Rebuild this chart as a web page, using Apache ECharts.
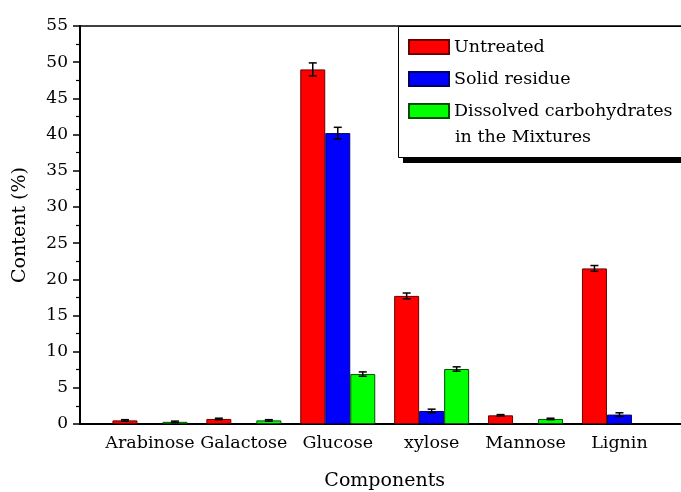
<!DOCTYPE html>
<html>
<head>
<meta charset="utf-8">
<script src="https://cdn.jsdelivr.net/npm/echarts@6/dist/echarts.min.js"></script>
<style>html,body{margin:0;padding:0;background:#fff;}#c{width:681px;height:492px;}</style>
</head>
<body>
<div id="c"></div>
<script>
var categories = ['Arabinose', 'Galactose', 'Glucose', 'xylose', 'Mannose', 'Lignin'];
var untreated = [0.5, 0.7, 49.0, 17.7, 1.2, 21.5];
var untreatedErr = [0.1, 0.1, 0.9, 0.4, 0.1, 0.4];
var solidResidue = [null, null, 40.2, 1.8, null, 1.3];
var solidResidueErr = [null, null, 0.8, 0.25, null, 0.25];
var dissolved = [0.3, 0.5, 6.9, 7.6, 0.7, null];
var dissolvedErr = [0.1, 0.1, 0.3, 0.3, 0.1, null];
var yTicks = [0, 5, 10, 15, 20, 25, 30, 35, 40, 45, 50, 55];

var FONT = 'DejaVu Serif';
var BW = 25;

function errData(vals, errs) {
  var out = [];
  for (var i = 0; i < vals.length; i++) {
    if (vals[i] != null && errs[i] != null) out.push([i, vals[i], errs[i]]);
  }
  return out;
}
function errSeries(vals, errs, offset) {
  return {
    type: 'custom', xAxisIndex: 1, yAxisIndex: 1, z: 5, silent: true,
    data: errData(vals, errs),
    encode: { x: 0, y: 1 },
    renderItem: function (params, api) {
      var i = api.value(0), v = api.value(1), e = api.value(2);
      var hi = api.coord([i, v + e]);
      var lo = api.coord([i, v - e]);
      var x = hi[0] + offset;
      var st = { stroke: '#000', lineWidth: 1.5 };
      return {
        type: 'group',
        children: [
          { type: 'line', shape: { x1: x, y1: hi[1], x2: x, y2: lo[1] }, style: st },
          { type: 'line', shape: { x1: x - 4, y1: hi[1], x2: x + 4, y2: hi[1] }, style: st },
          { type: 'line', shape: { x1: x - 4, y1: lo[1], x2: x + 4, y2: lo[1] }, style: st }
        ]
      };
    }
  };
}

var chart = echarts.init(document.getElementById('c'), null, { renderer: 'canvas' });
var option = {
  backgroundColor: '#fff',
  animation: false,
  textStyle: { fontFamily: FONT },
  grid: [
    { left: 80, right: -10, top: 26, bottom: 68, show: false, containLabel: false, outerBoundsMode: 'none' },
    { left: 103, right: 14.6, top: 26, bottom: 68, containLabel: false, outerBoundsMode: 'none' }
  ],
  xAxis: [
    { type: 'category', gridIndex: 0, data: categories, axisLine: { show: true, lineStyle: { color: '#000', width: 2 } },
      axisTick: { show: false }, axisLabel: { show: false }, splitLine: { show: false } },
    { type: 'category', gridIndex: 1, data: categories, axisLine: { show: false }, axisTick: { show: false },
      axisLabel: { color: '#000', fontSize: 17.5, fontFamily: FONT, margin: 10, interval: 0 },
      name: 'Components', nameLocation: 'middle', nameGap: 48,
      nameTextStyle: { color: '#000', fontSize: 19, fontFamily: FONT } },
    { type: 'category', gridIndex: 0, position: 'top', data: categories,
      axisLine: { show: true, lineStyle: { color: '#000', width: 1.5 } },
      axisTick: { show: false }, axisLabel: { show: false }, splitLine: { show: false } }
  ],
  yAxis: [
    { type: 'value', gridIndex: 0, min: 0, max: 55, interval: 5,
      axisLine: { show: true, lineStyle: { color: '#000', width: 2 } },
      axisTick: { show: true, length: 7, lineStyle: { color: '#000', width: 1.5 } },
      minorTick: { show: true, splitNumber: 2, length: 4, lineStyle: { color: '#000', width: 1.2 } },
      splitLine: { show: false },
      axisLabel: { color: '#000', fontSize: 17, fontFamily: FONT, margin: 12,
        formatter: function (v) { return yTicks.indexOf(v) >= 0 ? String(v) : ''; } },
      name: 'Content (%)', nameLocation: 'middle', nameGap: 50,
      nameTextStyle: { color: '#000', fontSize: 19, fontFamily: FONT } },
    { type: 'value', gridIndex: 1, min: 0, max: 55, interval: 5, show: false }
  ],
  legend: {
    orient: 'vertical', left: 408, top: 38, padding: 0, itemGap: 14,
    itemWidth: 40, itemHeight: 14, icon: 'rect', z: 10,
    textStyle: { color: '#000', fontSize: 17.5, fontFamily: FONT },
    formatter: function (n) { return n === 'Dissolved carbohydrates in the Mixtures' ? 'Dissolved carbohydrates' : n; },
    data: ['Untreated', 'Solid residue', 'Dissolved carbohydrates in the Mixtures']
  },
  graphic: [
    { type: 'rect', left: 403, top: 32, z: 7, shape: { width: 400, height: 131 },
      style: { fill: '#000' } },
    { type: 'rect', left: 398, top: 26, z: 8, shape: { width: 400, height: 131 },
      style: { fill: '#fff', stroke: '#000', lineWidth: 1 } },
    { type: 'text', left: 455, top: 128, z: 12,
      style: { text: 'in the Mixtures', fill: '#000', font: '17.5px "DejaVu Serif"' } }
  ],
  series: [
    { name: 'Untreated', type: 'bar', xAxisIndex: 1, yAxisIndex: 1, data: untreated, barWidth: BW, barGap: '0%',
      itemStyle: { color: '#ff0000', borderColor: '#6a0000', borderWidth: 1 } },
    { name: 'Solid residue', type: 'bar', xAxisIndex: 1, yAxisIndex: 1, data: solidResidue, barWidth: BW, barGap: '0%',
      itemStyle: { color: '#0000ff', borderColor: '#000066', borderWidth: 1 } },
    { name: 'Dissolved carbohydrates in the Mixtures', type: 'bar', xAxisIndex: 1, yAxisIndex: 1, data: dissolved, barWidth: BW, barGap: '0%',
      itemStyle: { color: '#00ff00', borderColor: '#005000', borderWidth: 1 } },
    errSeries(untreated, untreatedErr, -BW),
    errSeries(solidResidue, solidResidueErr, 0),
    errSeries(dissolved, dissolvedErr, BW)
  ]
};
chart.setOption(option);
</script>
</body>
</html>
